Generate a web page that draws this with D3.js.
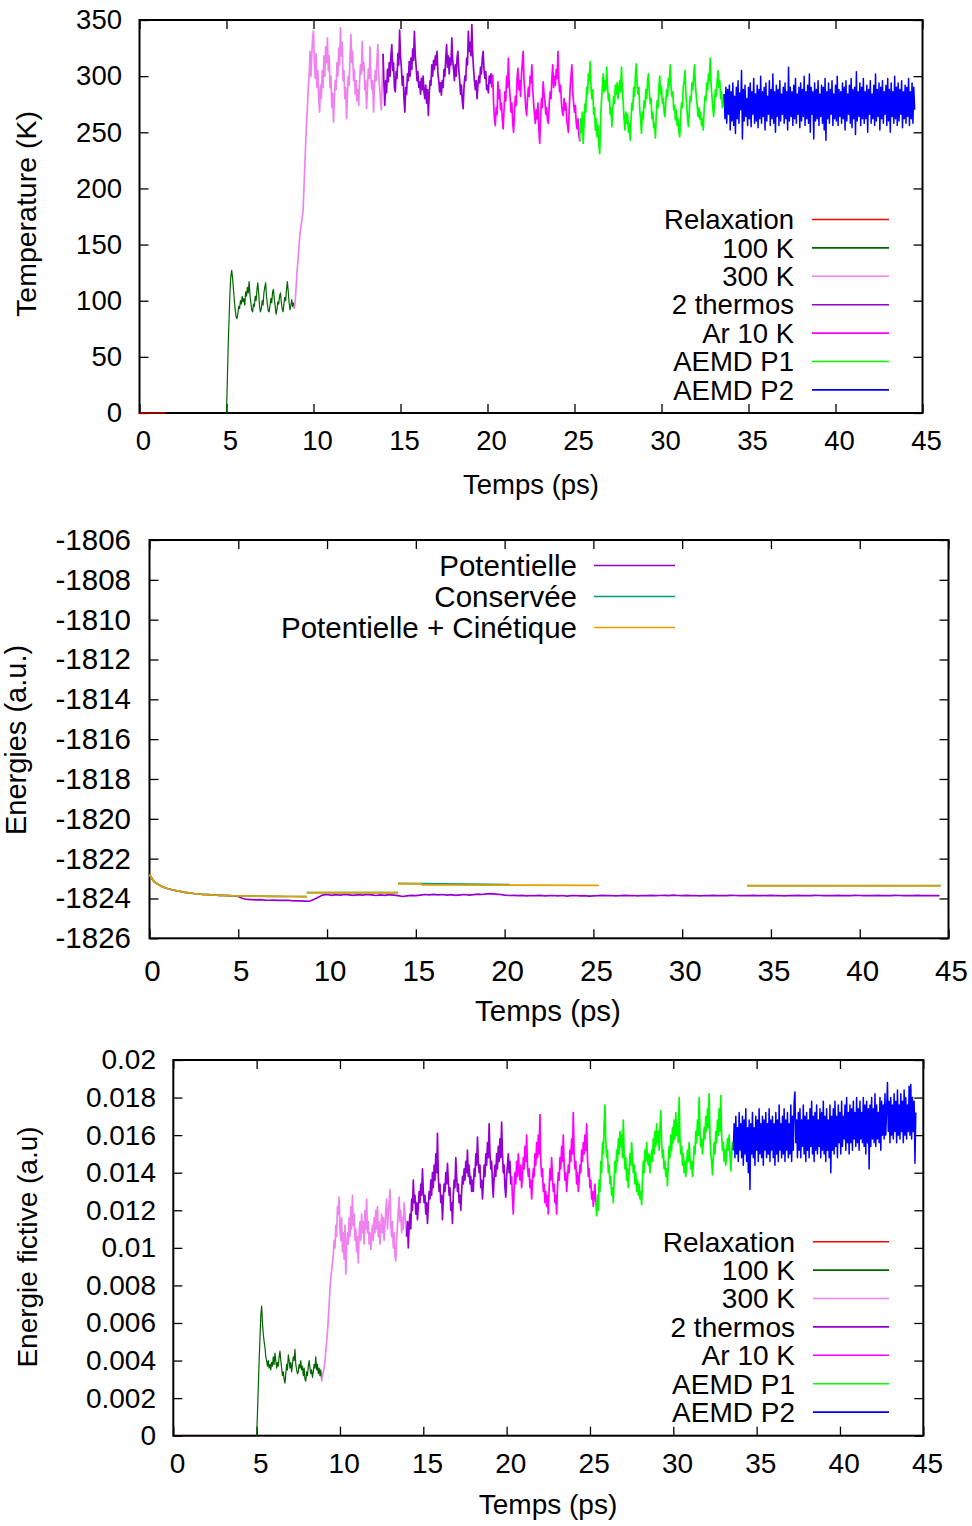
<!DOCTYPE html>
<html><head><meta charset="utf-8">
<script src="https://cdn.jsdelivr.net/npm/d3@7/dist/d3.min.js"></script>
<style>
body{margin:0;background:#fff}
svg{display:block}
</style>
</head><body>
<svg id="c" width="972" height="1526"></svg>
<script>
// ---------------- DATA ----------------
const xTicks = [0,5,10,15,20,25,30,35,40,45];
const tempTicks = [0,50,100,150,200,250,300,350];
const energyTicks = [-1826,-1824,-1822,-1820,-1818,-1816,-1814,-1812,-1810,-1808,-1806];
const fictTicks = [0,0.002,0.004,0.006,0.008,0.01,0.012,0.014,0.016,0.018,0.02];
const fictTickLabels = ["0","0.002","0.004","0.006","0.008","0.01","0.012","0.014","0.016","0.018","0.02"];

const phaseNames = ["Relaxation","100 K","300 K","2 thermos","Ar 10 K","AEMD P1","AEMD P2"];
const energyNames = ["Potentielle","Conservée","Potentielle + Cinétique"];

// Temperature (K): start time (ps) of each phase, sampling step (ps)
const tempStart = [0, 5.0, 8.9, 14.0, 20.25, 25.3, 33.6];
const tempStep  = [0.5, 0.05, 0.05, 0.05, 0.05, 0.05, 0.05];
const tempRelax = [0,0,0,0];
const temp100K = [0,30,62,85,108,122,127,120,110,100,92,86,84,88,95,93,100,97,104,99,102,96,108,104,112,107,117,105,98,92,90,97,95,104,100,110,116,106,95,90,93,100,96,107,112,116,104,97,91,90,96,102,98,108,110,101,95,88,92,99,97,104,107,99,93,90,97,103,100,110,117,108,98,92,96,101,95,98,93];
const temp300K = [93,100,112,125,134,145,156,163,168,174,180,200,220,240,258,272,290,300,322,300,318,335,340,312,298,320,290,305,280,268,292,280,305,290,318,300,326,312,334,305,318,290,300,272,285,259,280,296,288,312,300,325,310,343,318,330,296,305,280,290,262,284,300,292,318,337,312,322,296,306,284,296,278,288,274,296,310,302,331,305,312,288,296,271,290,306,298,326,300,288,296,268,290,305,296,315,328,300,290,278,270,296,320];
const temp2Thermos = [320,292,274,296,285,306,295,312,300,318,328,305,312,290,286,304,298,320,310,341,318,308,292,300,280,268,290,284,302,296,313,300,316,306,324,314,340,318,308,296,304,290,295,284,298,288,300,286,280,292,276,288,265,284,296,292,310,300,314,306,318,310,322,302,296,286,294,283,296,290,306,300,316,328,308,318,302,316,310,334,314,306,296,310,300,316,322,306,296,284,292,278,271,290,300,296,316,310,340,322,330,318,346,320,306,296,288,296,280,292,300,294,308,302,316,322,306,298,304,288,292,285,300,294,302,290];
const tempAr10K = [290,301,276,262,256,272,266,295,280,288,270,276,262,253,270,286,278,300,290,316,292,282,268,276,258,250,268,282,274,298,307,288,296,282,300,312,322,296,284,272,265,280,290,282,300,294,310,288,276,266,258,270,262,276,254,240,262,280,272,295,284,278,266,272,260,258,276,286,280,298,310,290,300,292,306,298,322,296,286,292,276,268,265,280,270,276,262,256,250,272,290,300,310,286,276,268,274,258,253,262,248,242];
const tempP1 = [242,262,250,268,240,258,275,268,290,284,302,296,313,290,280,288,266,272,252,262,246,256,238,231,262,278,290,302,286,296,288,308,290,278,284,266,272,255,270,282,276,292,284,294,280,290,296,286,308,288,276,262,252,268,258,266,250,258,243,262,276,270,290,282,300,311,292,284,290,270,262,249,268,262,278,272,288,280,296,302,286,276,280,262,268,254,258,245,266,278,272,290,300,284,290,276,280,268,264,278,288,282,298,292,310,290,282,286,270,274,261,270,256,262,250,246,266,276,272,290,296,305,284,274,262,255,270,282,278,294,288,300,310,292,282,274,264,272,262,268,256,262,252,270,282,278,294,288,302,296,316,292,282,272,264,278,288,282,296,305,290,296,280,286,272,276,284];
const tempP2 = [284,262,290,258,288,266,292,252,286,260,294,256,282,249,290,262,296,258,285,270,305,244,288,260,292,264,280,256,290,262,294,255,286,266,298,258,284,260,292,254,288,262,300,258,286,264,290,252,294,260,282,266,296,256,288,262,302,258,286,250,292,264,288,256,296,260,284,266,290,258,294,262,286,252,308,260,290,264,286,256,292,262,298,258,284,266,290,254,294,260,288,264,300,256,286,262,292,258,302,250,290,266,286,244,294,260,288,262,296,256,284,264,292,258,290,252,298,243,286,262,294,258,288,266,296,256,284,262,292,260,300,256,288,264,286,258,294,262,290,252,296,260,284,266,292,258,298,254,288,262,290,248,304,260,286,264,294,256,290,262,298,258,286,262,292,250,288,266,296,258,284,262,292,256,302,260,288,264,294,252,290,262,296,258,286,266,292,256,298,260,288,250,294,264,286,258,300,262,290,256,294,260,288,266,296,254,286,262,292,258,290,264,298,256,286,262,294,258,290,270];
const tempSeries = [tempRelax, temp100K, temp300K, temp2Thermos, tempAr10K, tempP1, tempP2];

// Energies (a.u.)
const potStart = 0, potStep = 0.25;
const potentielle = [-1822.8,-1823.15,-1823.3,-1823.42,-1823.5,-1823.56,-1823.61,-1823.65,-1823.69,-1823.72,-1823.75,-1823.77,-1823.79,-1823.8,-1823.82,-1823.83,-1823.84,-1823.85,-1823.86,-1823.87,-1823.9,-1824.0,-1824.05,-1824.06,-1824.07,-1824.06,-1824.08,-1824.09,-1824.08,-1824.1,-1824.1,-1824.09,-1824.11,-1824.12,-1824.12,-1824.13,-1824.14,-1824.05,-1823.94,-1823.83,-1823.8,
-1823.84,-1823.81,-1823.83,-1823.8,-1823.82,-1823.84,-1823.81,-1823.83,
-1823.8,-1823.82,-1823.85,-1823.82,-1823.84,-1823.81,-1823.83,-1823.86,
-1823.9,-1823.87,-1823.84,-1823.86,-1823.83,-1823.8,-1823.82,-1823.79,
-1823.82,-1823.8,-1823.83,-1823.81,-1823.84,-1823.82,-1823.8,-1823.83,
-1823.81,-1823.78,-1823.8,-1823.77,-1823.76,-1823.78,-1823.8,-1823.83,
-1823.85,-1823.84,-1823.86,-1823.84,-1823.87,-1823.85,-1823.86,-1823.84,
-1823.87,-1823.86,-1823.85,-1823.87,-1823.85,-1823.88,-1823.86,-1823.85,
-1823.87,-1823.86,-1823.88,-1823.87,-1823.86,-1823.84,-1823.86,-1823.85,
-1823.87,-1823.86,-1823.84,-1823.86,-1823.85,-1823.87,-1823.85,-1823.86,
-1823.84,-1823.86,-1823.85,-1823.84,-1823.86,-1823.83,-1823.85,-1823.86,
-1823.84,-1823.86,-1823.85,-1823.87,-1823.85,-1823.86,-1823.84,-1823.86,
-1823.85,-1823.86,-1823.84,-1823.85,-1823.86,-1823.85,-1823.86,-1823.84,
-1823.86,-1823.85,-1823.86,-1823.84,-1823.86,-1823.85,-1823.87,-1823.85,
-1823.86,-1823.84,-1823.86,-1823.85,-1823.86,-1823.84,-1823.85,-1823.86,
-1823.85,-1823.86,-1823.84,-1823.86,-1823.85,-1823.86,-1823.84,-1823.85,
-1823.86,-1823.85,-1823.86,-1823.84,-1823.86,-1823.85,-1823.86,-1823.84,
-1823.85,-1823.86,-1823.85,-1823.86,-1823.84,-1823.86,-1823.85,-1823.86,
-1823.85,-1823.86];
// step-wise segments: [time, energy]
const conserveeSegs = [
  [[0,-1822.8],[0.25,-1823.15],[0.5,-1823.3],[0.75,-1823.42],[1,-1823.5],[1.5,-1823.61],[2,-1823.69],[2.5,-1823.75],[3,-1823.79],[3.5,-1823.82],[4,-1823.84],[4.5,-1823.86],[5,-1823.87],[6,-1823.88],[7,-1823.89],[8,-1823.9],[8.86,-1823.91]],
  [[8.86,-1823.71],[14.0,-1823.71]],
  [[14.0,-1823.24],[20.3,-1823.3]],
  [[33.66,-1823.35],[44.56,-1823.35]]
];
const potCinSegs = [
  [[0,-1822.8],[0.25,-1823.15],[0.5,-1823.3],[0.75,-1823.42],[1,-1823.5],[1.5,-1823.61],[2,-1823.69],[2.5,-1823.75],[3,-1823.79],[3.5,-1823.82],[4,-1823.84],[4.5,-1823.86],[5,-1823.87],[6,-1823.88],[7,-1823.89],[8,-1823.9],[8.86,-1823.91]],
  [[8.86,-1823.71],[14.0,-1823.71]],
  [[14.0,-1823.27],[15.3,-1823.27],[15.35,-1823.32],[25.3,-1823.34]],
  [[33.66,-1823.37],[44.56,-1823.37]]
];

// Fictive energy (a.u)
const fictStart = [0, 5.0, 8.9, 14.0, 20.3, 25.35, 33.6];
const fictStep  = [0.5, 0.05, 0.05, 0.05, 0.05, 0.05, 0.05];
const fictRelax = [0,0,0,0,0,0,0,0,0,0,0];
const fict100K = [0.0000,0.0012,0.0026,0.0040,0.0052,0.0064,0.0069,0.0060,0.0054,0.0050,0.0047,0.0042,0.0040,0.0037,0.0040,0.0036,0.0038,0.0035,0.0039,0.0037,0.0042,0.0038,0.0044,0.0040,0.0036,0.0039,0.0037,0.0042,0.0045,0.0040,0.0036,0.0032,0.0034,0.0030,0.0028,0.0033,0.0038,0.0035,0.0043,0.0040,0.0036,0.0039,0.0034,0.0038,0.0042,0.0040,0.0046,0.0038,0.0035,0.0033,0.0034,0.0038,0.0036,0.0040,0.0035,0.0037,0.0032,0.0036,0.0030,0.0029,0.0034,0.0032,0.0037,0.0040,0.0036,0.0033,0.0035,0.0031,0.0034,0.0038,0.0036,0.0042,0.0035,0.0038,0.0033,0.0036,0.0032,0.0035,0.0029];
const fict300K = [0.0029,0.0032,0.0034,0.0036,0.0040,0.0045,0.0050,0.0055,0.0062,0.0070,0.0078,0.0084,0.0088,0.0092,0.0096,0.0104,0.0100,0.0112,0.0106,0.0122,0.0118,0.0127,0.0110,0.0104,0.0116,0.0098,0.0108,0.0094,0.0112,0.0086,0.0100,0.0108,0.0102,0.0116,0.0106,0.0122,0.0110,0.0128,0.0112,0.0118,0.0104,0.0110,0.0098,0.0106,0.0092,0.0108,0.0114,0.0104,0.0118,0.0108,0.0114,0.0102,0.0120,0.0110,0.0126,0.0108,0.0114,0.0102,0.0108,0.0099,0.0106,0.0112,0.0104,0.0116,0.0108,0.0120,0.0110,0.0122,0.0106,0.0114,0.0102,0.0110,0.0118,0.0108,0.0116,0.0104,0.0112,0.0120,0.0126,0.0110,0.0118,0.0124,0.0131,0.0112,0.0106,0.0114,0.0100,0.0108,0.0096,0.0093,0.0104,0.0112,0.0120,0.0127,0.0114,0.0120,0.0108,0.0116,0.0110,0.0124,0.0118,0.0112,0.0106];
const fict2Thermos = [0.0106,0.0114,0.0100,0.0112,0.0118,0.0110,0.0126,0.0120,0.0136,0.0124,0.0128,0.0118,0.0124,0.0115,0.0122,0.0130,0.0124,0.0134,0.0128,0.0142,0.0130,0.0124,0.0128,0.0118,0.0124,0.0113,0.0122,0.0130,0.0126,0.0136,0.0128,0.0140,0.0132,0.0144,0.0136,0.0150,0.0140,0.0161,0.0138,0.0130,0.0134,0.0124,0.0128,0.0115,0.0126,0.0134,0.0130,0.0140,0.0134,0.0145,0.0136,0.0128,0.0132,0.0120,0.0124,0.0113,0.0128,0.0136,0.0132,0.0148,0.0138,0.0130,0.0134,0.0124,0.0128,0.0120,0.0130,0.0138,0.0134,0.0142,0.0136,0.0146,0.0140,0.0152,0.0138,0.0144,0.0134,0.0138,0.0130,0.0136,0.0130,0.0142,0.0138,0.0150,0.0144,0.0159,0.0146,0.0140,0.0144,0.0132,0.0136,0.0126,0.0134,0.0144,0.0138,0.0150,0.0144,0.0156,0.0148,0.0166,0.0150,0.0142,0.0146,0.0134,0.0127,0.0138,0.0144,0.0138,0.0150,0.0142,0.0154,0.0146,0.0158,0.0148,0.0167,0.0150,0.0140,0.0144,0.0132,0.0127,0.0138,0.0144,0.0150,0.0140,0.0146,0.0134,0.0138];
const fictAr10K = [0.0138,0.0126,0.0118,0.0132,0.0140,0.0134,0.0146,0.0138,0.0150,0.0142,0.0136,0.0144,0.0132,0.0138,0.0148,0.0142,0.0154,0.0146,0.0160,0.0144,0.0138,0.0142,0.0132,0.0136,0.0126,0.0134,0.0142,0.0138,0.0150,0.0144,0.0156,0.0148,0.0160,0.0150,0.0171,0.0146,0.0138,0.0142,0.0130,0.0134,0.0124,0.0130,0.0122,0.0128,0.0118,0.0132,0.0142,0.0136,0.0148,0.0138,0.0130,0.0134,0.0124,0.0128,0.0118,0.0132,0.0140,0.0136,0.0148,0.0142,0.0154,0.0146,0.0160,0.0144,0.0136,0.0140,0.0130,0.0136,0.0144,0.0140,0.0152,0.0146,0.0158,0.0150,0.0172,0.0150,0.0142,0.0146,0.0134,0.0140,0.0130,0.0136,0.0144,0.0140,0.0152,0.0146,0.0156,0.0150,0.0160,0.0152,0.0166,0.0148,0.0138,0.0142,0.0132,0.0136,0.0126,0.0130,0.0122,0.0128,0.0134,0.0124];
const fictP1 = [0.0124,0.0117,0.0128,0.0120,0.0136,0.0130,0.0146,0.0140,0.0156,0.0150,0.0166,0.0176,0.0156,0.0148,0.0152,0.0140,0.0144,0.0134,0.0138,0.0128,0.0132,0.0124,0.0136,0.0146,0.0140,0.0152,0.0146,0.0158,0.0150,0.0162,0.0154,0.0160,0.0148,0.0168,0.0150,0.0142,0.0148,0.0136,0.0142,0.0132,0.0140,0.0150,0.0144,0.0156,0.0148,0.0140,0.0144,0.0134,0.0140,0.0130,0.0136,0.0128,0.0134,0.0126,0.0130,0.0123,0.0136,0.0146,0.0140,0.0152,0.0146,0.0156,0.0148,0.0144,0.0150,0.0140,0.0146,0.0152,0.0146,0.0158,0.0150,0.0162,0.0154,0.0166,0.0156,0.0162,0.0152,0.0164,0.0173,0.0156,0.0148,0.0152,0.0142,0.0146,0.0138,0.0142,0.0133,0.0146,0.0154,0.0148,0.0160,0.0152,0.0164,0.0156,0.0168,0.0158,0.0172,0.0160,0.0166,0.0156,0.0180,0.0158,0.0150,0.0154,0.0144,0.0150,0.0140,0.0146,0.0138,0.0144,0.0152,0.0146,0.0156,0.0148,0.0142,0.0146,0.0138,0.0144,0.0154,0.0150,0.0162,0.0156,0.0168,0.0160,0.0180,0.0162,0.0154,0.0158,0.0150,0.0156,0.0164,0.0158,0.0170,0.0162,0.0174,0.0164,0.0182,0.0160,0.0150,0.0146,0.0139,0.0148,0.0156,0.0150,0.0162,0.0156,0.0168,0.0160,0.0174,0.0162,0.0181,0.0160,0.0152,0.0156,0.0146,0.0152,0.0144,0.0150,0.0158,0.0152,0.0160,0.0150,0.0141,0.0150,0.0156,0.0152];
const fictP2 = [0.0152,0.0166,0.0148,0.0170,0.0150,0.0164,0.0146,0.0172,0.0152,0.0166,
0.0148,0.0170,0.0144,0.0168,0.0150,0.0174,0.0146,0.0164,0.0140,0.0168,
0.0131,0.0166,0.0150,0.0172,0.0148,0.0164,0.0144,0.0170,0.0152,0.0168,
0.0146,0.0174,0.0150,0.0166,0.0148,0.0170,0.0144,0.0168,0.0152,0.0172,
0.0148,0.0166,0.0150,0.0174,0.0146,0.0168,0.0152,0.0170,0.0148,0.0166,
0.0144,0.0172,0.0150,0.0168,0.0146,0.0176,0.0152,0.0166,0.0148,0.0170,
0.0150,0.0174,0.0146,0.0168,0.0152,0.0172,0.0148,0.0166,0.0150,0.0176,
0.0146,0.0170,0.0152,0.0178,0.0183,0.0156,0.0168,0.0148,0.0172,0.0152,
0.0174,0.0148,0.0168,0.0154,0.0176,0.0150,0.0170,0.0146,0.0172,0.0152,
0.0168,0.0148,0.0174,0.0154,0.0178,0.0150,0.0170,0.0146,0.0172,0.0152,
0.0176,0.0150,0.0168,0.0154,0.0174,0.0148,0.0172,0.0152,0.0178,0.0150,
0.0170,0.0146,0.0174,0.0152,0.0168,0.0148,0.0176,0.0140,0.0170,0.0152,
0.0174,0.0150,0.0178,0.0154,0.0170,0.0148,0.0176,0.0156,0.0172,0.0150,
0.0178,0.0154,0.0170,0.0158,0.0176,0.0152,0.0180,0.0156,0.0172,0.0150,
0.0176,0.0156,0.0174,0.0152,0.0178,0.0158,0.0172,0.0154,0.0180,0.0156,
0.0174,0.0152,0.0178,0.0158,0.0172,0.0156,0.0180,0.0154,0.0176,0.0150,
0.0178,0.0156,0.0174,0.0142,0.0176,0.0154,0.0180,0.0158,0.0174,0.0156,
0.0182,0.0154,0.0176,0.0158,0.0172,0.0156,0.0180,0.0152,0.0178,0.0160,
0.0176,0.0158,0.0182,0.0160,0.0174,0.0188,0.0162,0.0178,0.0156,0.0180,
0.0160,0.0176,0.0158,0.0182,0.0162,0.0178,0.0156,0.0184,0.0160,0.0176,
0.0158,0.0182,0.0162,0.0178,0.0156,0.0184,0.0160,0.0180,0.0158,0.0176,
0.0162,0.0186,0.0160,0.0187,0.0158,0.0180,0.0162,0.0178,0.0145,0.0172];
const fictSeries = [fictRelax, fict100K, fict300K, fict2Thermos, fictAr10K, fictP1, fictP2];

// ---------------- STYLE ----------------
const FONT = '"Liberation Sans", Arial, Helvetica, sans-serif';
const phaseColors = ["#ff0000","#006400","#ee82ee","#9400d3","#ff00ff","#00ff00","#0000ff"];
const energyColors = ["#9400d3","#009e73","#e69f00"];
const bandWidths = [1.2, 1.2, 1.7, 1.7, 1.7, 1.7, 1.5];

const svg = d3.select("#c");

function frame(cfg) {
  const x = d3.scaleLinear().domain([0,45]).range([cfg.left, cfg.right]);
  const y = d3.scaleLinear().domain(cfg.yDomain).range([cfg.bottom, cfg.top]);
  const g = svg.append("g");
  const style = sel => {
    sel.select(".domain").remove();
    sel.attr("font-family", FONT).attr("font-size", cfg.fs);
    sel.selectAll(".tick line").attr("stroke","#000").attr("stroke-width",1.3);
    sel.selectAll(".tick text").attr("fill","#000");
  };
  g.append("g").attr("transform",`translate(0,${cfg.bottom})`)
    .call(d3.axisBottom(x).tickValues(xTicks).tickSizeInner(-9).tickSizeOuter(0).tickPadding(cfg.xPad).tickFormat(d3.format("d")))
    .call(style).call(s => s.selectAll(".tick text").attr("dx", cfg.xdx));
  g.append("g").attr("transform",`translate(0,${cfg.top})`)
    .call(d3.axisTop(x).tickValues(xTicks).tickSizeInner(-9).tickSizeOuter(0).tickFormat(""))
    .call(style);
  g.append("g").attr("transform",`translate(${cfg.left},0)`)
    .call(d3.axisLeft(y).tickValues(cfg.yTicks).tickSizeInner(-9).tickSizeOuter(0).tickPadding(cfg.yPad).tickFormat((d,i)=>cfg.yLabels[i]))
    .call(style);
  g.append("g").attr("transform",`translate(${cfg.right},0)`)
    .call(d3.axisRight(y).tickValues(cfg.yTicks).tickSizeInner(-9).tickSizeOuter(0).tickFormat(""))
    .call(style);
  g.append("rect").attr("x",cfg.left).attr("y",cfg.top)
    .attr("width",cfg.right-cfg.left).attr("height",cfg.bottom-cfg.top)
    .attr("fill","none").attr("stroke","#000").attr("stroke-width",2);
  g.append("text").attr("x",cfg.xTitle[0]).attr("y",cfg.xTitle[1]).attr("dy","0.35em")
    .attr("text-anchor","middle").attr("font-family",FONT).attr("font-size",cfg.fs).text("Temps (ps)");
  g.append("text").attr("transform",`translate(${cfg.yTitle[0]},${cfg.yTitle[1]}) rotate(-90)`).attr("dy","0.35em")
    .attr("text-anchor","middle").attr("font-family",FONT).attr("font-size",cfg.yTitleFs || cfg.fs).text(cfg.yTitleText);
  return {x, y, g};
}

function legend(g, names, colors, cfg) {
  names.forEach((n,i) => {
    const yy = cfg.top + i*cfg.gap;
    g.append("text").attr("x",cfg.textRight).attr("y",yy).attr("dy","0.35em")
      .attr("text-anchor","end").attr("font-family",FONT).attr("font-size",cfg.fs).attr("fill","#000").text(n);
    g.append("line").attr("x1",cfg.l1).attr("x2",cfg.l2).attr("y1",yy).attr("y2",yy)
      .attr("stroke",colors[i]).attr("stroke-width",1.6);
  });
}

const pts = (t0, dt, vals) => vals.map((v,i) => [t0 + i*dt, v]);

// ---------- Panel 1: Temperature ----------
{
  const cfg = {left:139.5, right:922.5, top:20, bottom:413, yDomain:[0,350], yTicks:tempTicks,
    yLabels:tempTicks.map(String), fs:27.5, xPad:17, yPad:17.5, xdx:3.5,
    xTitle:[531,484], yTitle:[26,214], yTitleText:"Temperature (K)", yTitleFs:28.5};
  const {x,y,g} = frame(cfg);
  const line = d3.line().x(d=>x(d[0])).y(d=>y(d[1]));
  tempSeries.forEach((s,i) => {
    g.append("path").datum(pts(tempStart[i], tempStep[i], s)).attr("d",line)
      .attr("fill","none").attr("stroke",phaseColors[i]).attr("stroke-width",bandWidths[i]).attr("stroke-linejoin","round");
  });
  legend(g, phaseNames, phaseColors, {top:219.5, gap:28.4, textRight:794, l1:812, l2:889, fs:27.5});
}

// ---------- Panel 2: Energies ----------
{
  const cfg = {left:149.5, right:948.5, top:540, bottom:938.3, yDomain:[-1826,-1806], yTicks:energyTicks,
    yLabels:energyTicks.map(String), fs:29.5, xPad:21.5, yPad:18.5, xdx:2.5,
    xTitle:[548,1011], yTitle:[15.5,740], yTitleText:"Energies (a.u.)", yTitleFs:29};
  const {x,y,g} = frame(cfg);
  const line = d3.line().x(d=>x(d[0])).y(d=>y(d[1]));
  g.append("path").datum(pts(potStart, potStep, potentielle)).attr("d",line)
    .attr("fill","none").attr("stroke",energyColors[0]).attr("stroke-width",1.7);
  conserveeSegs.forEach(s => g.append("path").datum(s).attr("d",line)
    .attr("fill","none").attr("stroke",energyColors[1]).attr("stroke-width",1.7));
  potCinSegs.forEach(s => g.append("path").datum(s).attr("d",line)
    .attr("fill","none").attr("stroke",energyColors[2]).attr("stroke-width",1.7));
  legend(g, energyNames, energyColors, {top:565.5, gap:31, textRight:577, l1:594, l2:675, fs:29.5});
}

// ---------- Panel 3: Fictive energy ----------
{
  const x0 = d3.scaleLinear().domain([0,45]).range([173.3, 923.3]);
  const y0 = d3.scaleLinear().domain([0,0.02]).range([1435.7, 1060]);
  // relaxation lies at zero, beneath the frame
  svg.append("path").datum(pts(fictStart[0], fictStep[0], fictRelax))
    .attr("d", d3.line().x(d=>x0(d[0])).y(d=>y0(d[1])))
    .attr("fill","none").attr("stroke",phaseColors[0]).attr("stroke-width",1.1);
  const cfg = {left:173.3, right:923.3, top:1060, bottom:1435.7, yDomain:[0,0.02], yTicks:fictTicks,
    yLabels:fictTickLabels, fs:28, xPad:17.5, yPad:17.3, xdx:3.7,
    xTitle:[548,1504], yTitle:[27,1247], yTitleText:"Energie fictive (a.u)"};
  const {x,y,g} = frame(cfg);
  const line = d3.line().x(d=>x(d[0])).y(d=>y(d[1]));
  fictSeries.forEach((s,i) => {
    if (i === 0) return;
    g.append("path").datum(pts(fictStart[i], fictStep[i], s)).attr("d",line)
      .attr("fill","none").attr("stroke",phaseColors[i]).attr("stroke-width",bandWidths[i]).attr("stroke-linejoin","round");
  });
  legend(g, phaseNames, phaseColors, {top:1241.7, gap:28.4, textRight:795, l1:813, l2:889, fs:28});
}
</script>
</body></html>
